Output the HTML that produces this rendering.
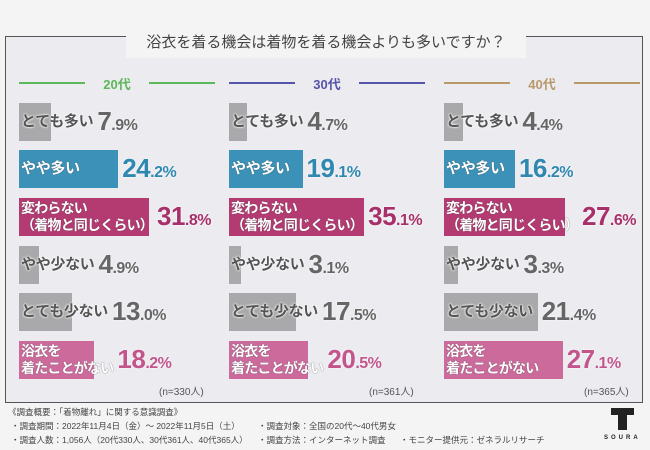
<!DOCTYPE html>
<html><head><meta charset="utf-8">
<style>
body{margin:0;width:650px;height:450px;background:#f4f4f5;font-family:"Liberation Sans","Noto Sans CJK JP",sans-serif;overflow:hidden;position:relative}
#frame{position:absolute;left:5px;top:36px;width:638px;height:367px;border:1px solid #555;background:#ecebf0;box-sizing:border-box}
#title{position:absolute;left:126px;top:28px;width:400px;height:30px;background:#f4f4f5;text-align:center;font-size:15px;color:#444;line-height:30px}
.hdr{position:absolute;top:74px;height:16px;font-size:13px;font-weight:bold;text-align:center}
.hl{position:absolute;top:82px;height:1.5px}
.bar{position:absolute;height:38px}
.lab{position:absolute;font-weight:bold;white-space:nowrap}
.val{position:absolute;font-weight:bold;white-space:nowrap;letter-spacing:-0.5px}
.val small{font-size:16px}
.n{position:absolute;font-size:10px;color:#555;top:383px}
.ft{position:absolute;font-size:8.5px;color:#444;white-space:nowrap}
</style></head><body>
<div id="frame"></div>
<div id="title">浴衣を着る機会は着物を着る機会よりも多いですか？</div>
<div id="chart"></div>
<div class="ft" style="left:8px;top:406px">《調査概要：「着物離れ」に関する意識調査》</div>
<div class="ft" style="left:11px;top:420px">・調査期間：2022年11月4日（金）～ 2022年11月5日（土）</div>
<div class="ft" style="left:11px;top:434px">・調査人数：1,056人（20代330人、30代361人、40代365人）</div>
<div class="ft" style="left:258px;top:420px">・調査対象：全国の20代～40代男女</div>
<div class="ft" style="left:258px;top:434px">・調査方法：インターネット調査</div>
<div class="ft" style="left:400px;top:434px">・モニター提供元：ゼネラルリサーチ</div>
<div style="position:absolute;left:607px;top:408px;width:36px;height:40px">
<div style="position:absolute;left:4px;top:0;width:23px;height:7px;background:#222"></div>
<div style="position:absolute;left:11px;top:0;width:9px;height:22px;background:#222"></div>
<div style="position:absolute;left:-3px;top:27px;font-size:6px;font-weight:bold;letter-spacing:3px;color:#222">SOURA</div>
</div>
<script>
const categories=["とても多い","やや多い","変わらない\n（着物と同じくらい）","やや少ない","とても少ない","浴衣を\n着たことがない"];
const groups=["20代","30代","40代"];
const values20=[7.9,24.2,31.8,4.9,13.0,18.2];
const values30=[4.7,19.1,35.1,3.1,17.5,20.5];
const values40=[4.4,16.2,27.6,3.3,21.4,27.1];
const sampleLabels=["(n=330人)","(n=361人)","(n=365人)"];
const series=[values20,values30,values40];
const panelX=[19,229,444], panelScale=[4.1,3.85,4.38], hdrColor=["#5cb85a","#5555aa","#b89a6a"];
const barColor=["#a9a9ab","#3b91b8","#b43a72","#a9a9ab","#a9a9ab","#cc6a9c"];
const valColor=["#666","#2f88b0","#a8306a","#666","#666","#c2558c"];
const rowY=[103,150,198,246,293,341];
const root=document.getElementById('chart');
function x(p,v){return panelX[p]+v*panelScale[p];}
groups.forEach((g,p)=>{
  const h=document.createElement('div');h.className='hdr';h.textContent=g;
  
  
  h.style.left=(panelX[p]+66)+'px';h.style.width='64px';h.style.color=hdrColor[p];root.appendChild(h);
  [[panelX[p],66],[panelX[p]+130,66]].forEach(([l,w])=>{const ln=document.createElement('div');ln.className='hl';
    
    
    ln.style.left=l+'px';ln.style.width=w+'px';ln.style.background=hdrColor[p];root.appendChild(ln);});
  series[p].forEach((v,i)=>{
    const b=document.createElement('div');b.className='bar';
    
    
    b.style.left=panelX[p]+'px';b.style.top=rowY[i]+'px';b.style.width=(x(p,v)-panelX[p])+'px';b.style.background=barColor[i];root.appendChild(b);
    const l=document.createElement('div');l.className='lab';
    
    
    const two=categories[i].includes('\n');
    l.innerHTML=categories[i].replace('\n','<br>');
    l.style.left=(panelX[p]+2)+'px';l.style.top=(rowY[i]+(two?2:9))+'px';
    l.style.fontSize=two?'14px':'15px';l.style.lineHeight=two?'17px':'20px';
    l.style.letterSpacing=two?'-0.8px':'-0.3px';
    const gray=barColor[i]==="#a9a9ab";
    l.style.color=gray?'#555':'#fff';
    l.style.textShadow=gray?'0 0 2px #fff,0 0 2px #fff':'0 0 1px #444';
    root.appendChild(l);
    const lw=l.getBoundingClientRect().right;
    const vx=Math.max(x(p,v),lw)+4;
    const t=document.createElement('div');t.className='val';
    
    
    const s=v.toFixed(1).split('.');
    t.innerHTML=`<span style="font-size:26px">${s[0]}</span><small>.${s[1]}%</small>`;
    t.style.left=vx+'px';t.style.top=(rowY[i]+3)+'px';t.style.color=valColor[i];t.style.textShadow='0 0 2px #fff';
    root.appendChild(t);
  });
  const n=document.createElement('div');n.className='n';n.textContent=sampleLabels[p];
  
  
  n.style.left=(panelX[p]+140)+'px';root.appendChild(n);
});
</script>
</body></html>
